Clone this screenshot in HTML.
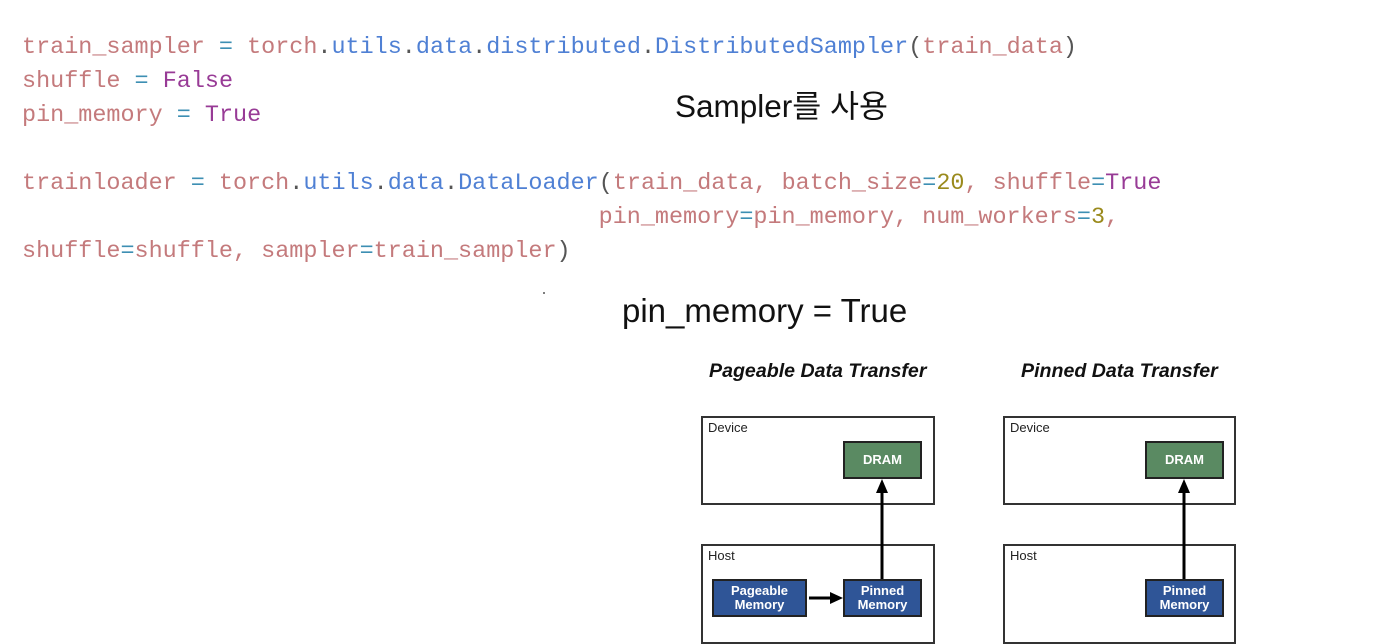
<!DOCTYPE html>
<html><head><meta charset="utf-8"><style>
body{margin:0;width:1398px;height:632px;background:#fff;position:relative;overflow:hidden;font-family:"Liberation Sans","Noto Sans CJK KR",sans-serif}
.code{position:absolute;left:22px;font-family:"Liberation Mono",monospace;font-size:23.45px;white-space:pre;color:#c47a7c;line-height:34px}
.b{color:#4f80d4}.p{color:#983b96}.o{color:#3d8fb3}.n{color:#9a8a1c}.k{color:#555}
.t{position:absolute;color:#111;white-space:nowrap}
.box{position:absolute;border:2px solid #333;box-sizing:border-box;background:#fff}
.lbl{position:absolute;font-size:13px;color:#222;left:5px;top:2px}
.m{position:absolute;border:2px solid #222;box-sizing:border-box;color:#fff;font-weight:bold;font-size:13px;text-align:center;display:flex;align-items:center;justify-content:center;line-height:14px}
.g{background:#5a8a62}.bl{background:#2f5597}
.h{position:absolute;font-weight:bold;font-style:italic;font-size:19.6px;color:#111;white-space:nowrap}
</style></head><body>
<div class="code" style="top:31px">train_sampler <span class="o">=</span> torch<span class="k">.</span><span class="b">utils</span><span class="k">.</span><span class="b">data</span><span class="k">.</span><span class="b">distributed</span><span class="k">.</span><span class="b">DistributedSampler</span><span class="k">(</span>train_data<span class="k">)</span>
shuffle <span class="o">=</span> <span class="p">False</span>
pin_memory <span class="o">=</span> <span class="p">True</span>

trainloader <span class="o">=</span> torch<span class="k">.</span><span class="b">utils</span><span class="k">.</span><span class="b">data</span><span class="k">.</span><span class="b">DataLoader</span><span class="k">(</span>train_data, batch_size<span class="o">=</span><span class="n">20</span>, shuffle<span class="o">=</span><span class="p">True</span>
                                         pin_memory<span class="o">=</span>pin_memory, num_workers<span class="o">=</span><span class="n">3</span>,
shuffle<span class="o">=</span>shuffle, sampler<span class="o">=</span>train_sampler<span class="k">)</span></div>
<div class="t" style="left:675px;top:81px;font-size:31.5px">Sampler를 사용</div>
<div class="t" style="left:622px;top:292px;font-size:33px">pin_memory = True</div>
<div class="h" style="left:709px;top:360px">Pageable Data Transfer</div>
<div class="h" style="left:1021px;top:360px">Pinned Data Transfer</div>

<div class="box" style="left:701px;top:416px;width:234px;height:89px"><span class="lbl">Device</span></div>
<div class="box" style="left:701px;top:544px;width:234px;height:100px"><span class="lbl">Host</span></div>
<div class="m g" style="left:843px;top:441px;width:79px;height:38px">DRAM</div>
<div class="m bl" style="left:712px;top:579px;width:95px;height:38px">Pageable<br>Memory</div>
<div class="m bl" style="left:843px;top:579px;width:79px;height:38px">Pinned<br>Memory</div>

<div class="box" style="left:1003px;top:416px;width:233px;height:89px"><span class="lbl">Device</span></div>
<div class="box" style="left:1003px;top:544px;width:233px;height:100px"><span class="lbl">Host</span></div>
<div class="m g" style="left:1145px;top:441px;width:79px;height:38px">DRAM</div>
<div class="m bl" style="left:1145px;top:579px;width:79px;height:38px">Pinned<br>Memory</div>

<svg style="position:absolute;left:0;top:0" width="1398" height="632">
<g stroke="#000" stroke-width="3" fill="none">
<line x1="882" y1="579" x2="882" y2="490"/>
<line x1="1184" y1="579" x2="1184" y2="490"/>
<line x1="809" y1="598" x2="834" y2="598"/>
</g>
<g fill="#000">
<polygon points="882,479 876,493 888,493"/>
<polygon points="1184,479 1178,493 1190,493"/>
<polygon points="843,598 830,592 830,604"/>
</g>
<circle cx="544" cy="293" r="1" fill="#555"/>
</svg>
</body></html>
